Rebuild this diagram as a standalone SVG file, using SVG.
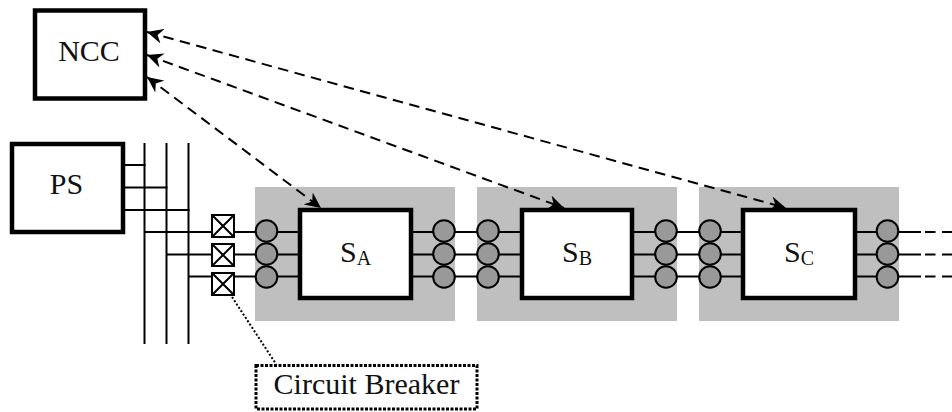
<svg xmlns="http://www.w3.org/2000/svg" width="952" height="412" viewBox="0 0 952 412">
<style>
.t{font-family:"Liberation Serif","Times New Roman",serif;fill:#111;font-size:30px}
.s{font-size:20px}
.box{fill:#fff;stroke:#000;stroke-width:4.500}
.panel{fill:#bfbfbf}
.w{stroke:#000;stroke-width:2;fill:none}
.c{fill:#999;stroke:#000;stroke-width:2}
.d{stroke:#000;stroke-width:2;fill:none;stroke-dasharray:10.500 6.500}
.cb{fill:#fff;stroke:#000;stroke-width:2}
</style>
<defs>
<marker id="a" markerUnits="userSpaceOnUse" markerWidth="17" markerHeight="16" refX="16" refY="8" orient="auto-start-reverse">
<path d="M0 0.500L16 8L0 15.500L5 8Z" fill="#000"/>
</marker>
</defs>
<g id="panels">
<rect class="panel" x="255" y="187" width="200" height="134"/>
<rect class="panel" x="477" y="187" width="200" height="134"/>
<rect class="panel" x="699" y="187" width="200" height="134"/>
</g>
<g id="connectors">
<path class="w" d="M144.500 143V344M166.500 143V344M188.500 143V344"/>
<path class="w" d="M124 165H145.500M124 187.500H167.500M124 210H189.500"/>
<path class="w" d="M144 232H921M166 254.500H921M188 276.500H921"/>
<path class="d" d="M925 232H952M925 254.500H952M925 276.500H952"/>
<path class="d" marker-start="url(#a)" marker-end="url(#a)" d="M147 32L786 208"/>
<path class="d" marker-start="url(#a)" marker-end="url(#a)" d="M147 55L564 208"/>
<path class="d" marker-start="url(#a)" marker-end="url(#a)" d="M147 77L321 208"/>
<path d="M232 297L276 364" fill="none" stroke="#000" stroke-width="2" stroke-dasharray="2 2"/>
</g>
<g id="NCC"><rect class="box" x="35" y="10.500" width="110" height="88"/><text class="t" x="89" y="61" text-anchor="middle">NCC</text></g>
<g id="PS"><rect class="box" x="12" y="144" width="111" height="88"/><text class="t" x="66.500" y="194" text-anchor="middle">PS</text></g>
<g id="breakers">
<g id="cb1"><rect class="cb" x="212" y="215" width="22" height="22"/><path class="w" d="M212 215L234 237M234 215L212 237"/></g>
<g id="cb2"><rect class="cb" x="212" y="244" width="22" height="22"/><path class="w" d="M212 244L234 266M234 244L212 266"/></g>
<g id="cb3"><rect class="cb" x="212" y="273" width="22" height="22"/><path class="w" d="M212 273L234 295M234 273L212 295"/></g>
</g>
<g id="circles">
<circle class="c" cx="266.500" cy="231" r="10.800"/><circle class="c" cx="266.500" cy="254" r="10.800"/><circle class="c" cx="266.500" cy="277" r="10.800"/>
<circle class="c" cx="444" cy="231" r="10.800"/><circle class="c" cx="444" cy="254" r="10.800"/><circle class="c" cx="444" cy="277" r="10.800"/>
<circle class="c" cx="488" cy="231" r="10.800"/><circle class="c" cx="488" cy="254" r="10.800"/><circle class="c" cx="488" cy="277" r="10.800"/>
<circle class="c" cx="666" cy="231" r="10.800"/><circle class="c" cx="666" cy="254" r="10.800"/><circle class="c" cx="666" cy="277" r="10.800"/>
<circle class="c" cx="710" cy="231" r="10.800"/><circle class="c" cx="710" cy="254" r="10.800"/><circle class="c" cx="710" cy="277" r="10.800"/>
<circle class="c" cx="887.500" cy="231" r="10.800"/><circle class="c" cx="887.500" cy="254" r="10.800"/><circle class="c" cx="887.500" cy="277" r="10.800"/>
</g>
<g id="SA"><rect class="box" x="300" y="210" width="111" height="88"/><text class="t" x="340" y="262">S<tspan class="s" dy="3">A</tspan></text></g>
<g id="SB"><rect class="box" x="522" y="210" width="110" height="88"/><text class="t" x="562" y="262">S<tspan class="s" dy="3">B</tspan></text></g>
<g id="SC"><rect class="box" x="743" y="210" width="112" height="88"/><text class="t" x="784" y="262">S<tspan class="s" dy="3">C</tspan></text></g>
<g id="CircuitBreaker"><rect x="256" y="365.500" width="221" height="43.500" fill="#fff" stroke="#000" stroke-width="3" stroke-dasharray="3 1.500"/><text class="t" x="366.500" y="394" text-anchor="middle">Circuit Breaker</text></g>
</svg>
